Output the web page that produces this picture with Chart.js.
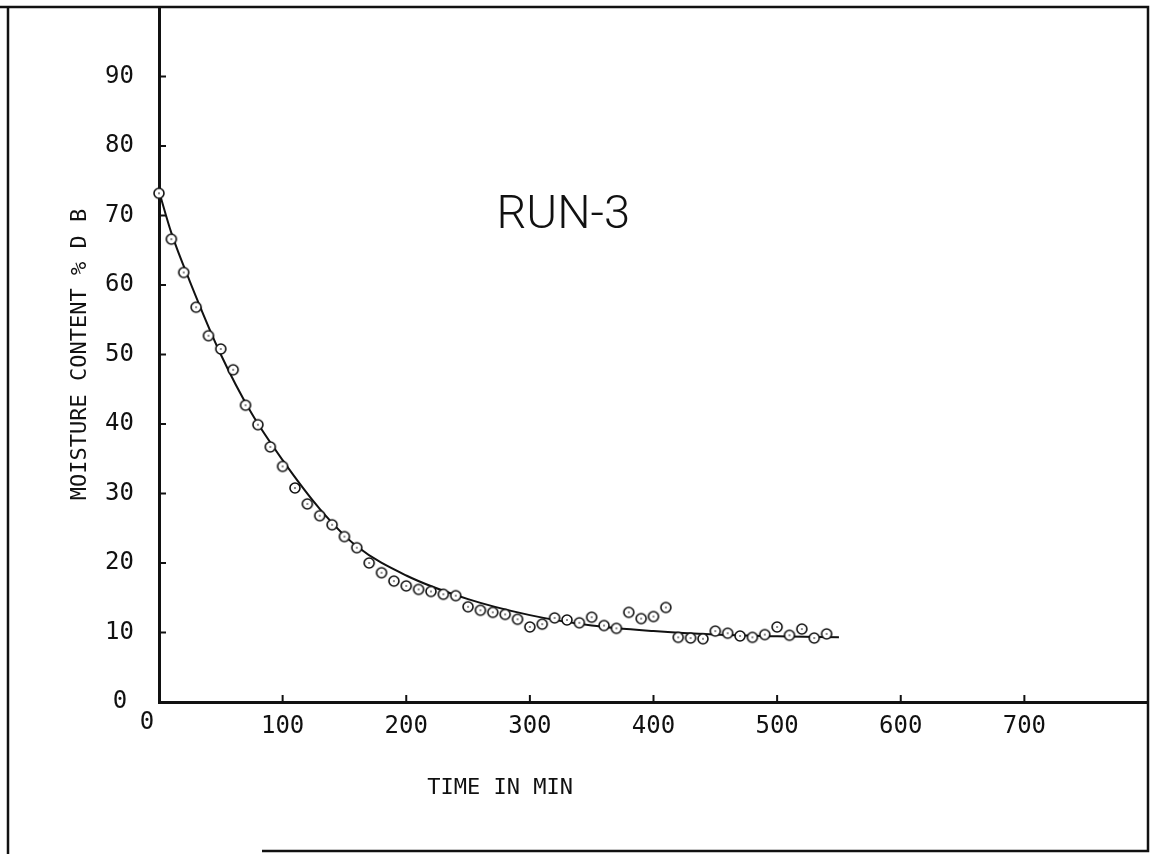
<!DOCTYPE html>
<html>
<head>
<meta charset="utf-8">
<title>RUN-3</title>
<script src="https://cdn.jsdelivr.net/npm/chart.js@4.4.0/dist/chart.umd.min.js"></script>
<style>
  html, body { margin: 0; padding: 0; background: #fff; }
  canvas { display: block; }
</style>
</head>
<body>
<canvas id="run3" width="1155" height="854"></canvas>
<script>
// data titik pengukuran (menit, kadar air % basis kering)
const timeMin = [
  0, 10, 20, 30, 40, 50, 60, 70, 80, 90,
  100, 110, 120, 130, 140, 150, 160, 170, 180, 190,
  200, 210, 220, 230, 240, 250, 260, 270, 280, 290,
  300, 310, 320, 330, 340, 350, 360, 370, 380, 390,
  400, 410, 420, 430, 440, 450, 460, 470, 480, 490,
  500, 510, 520, 530, 540,
];
const moisture = [
  73.2, 66.6, 61.8, 56.8, 52.7, 50.8, 47.8, 42.7, 39.9, 36.7,
  33.9, 30.8, 28.5, 26.8, 25.5, 23.8, 22.2, 20.0, 18.6, 17.4,
  16.7, 16.2, 15.9, 15.5, 15.3, 13.7, 13.2, 12.9, 12.6, 11.9,
  10.8, 11.2, 12.1, 11.8, 11.4, 12.2, 11.0, 10.6, 12.9, 12.0,
  12.3, 13.6, 9.3, 9.2, 9.1, 10.2, 9.9, 9.5, 9.3, 9.7,
  10.8, 9.6, 10.5, 9.2, 9.8,
];

// kurva fit (dibaca dari garis di gambar)
const fitTime = [0, 10, 25, 50, 75, 100, 130, 160, 200, 250, 300, 350, 400, 450, 500, 550];
const fitMoisture = [73.5, 67.5, 60.5, 50.0, 41.5, 34.8, 27.8, 22.4, 18.2, 14.8, 12.5, 11.0, 10.2, 9.7, 9.45, 9.3];

// tick sumbu
const xTickValues = [0, 100, 200, 300, 400, 500, 600, 700];
const yTickValues = [0, 10, 20, 30, 40, 50, 60, 70, 80, 90];

const tinta = "#111";
const fontMono = "'DejaVu Sans Mono', 'Liberation Mono', monospace";

// marker lingkaran kosong dengan titik di tengah
function bikinMarker() {
  const c = document.createElement("canvas");
  c.width = 14;
  c.height = 14;
  const g = c.getContext("2d");
  g.fillStyle = "#fff";
  g.strokeStyle = tinta;
  g.lineWidth = 1.6;
  g.beginPath();
  g.arc(7, 7, 5, 0, Math.PI * 2);
  g.fill();
  g.stroke();
  g.fillStyle = tinta;
  g.fillRect(6.3, 6.3, 1.4, 1.4);
  return c;
}

// bingkai, tick ke dalam, label nol dan teks tambahan
const hiasan = {
  id: "hiasan",
  afterDraw(chart) {
    const { ctx, chartArea, scales } = chart;
    const sx = scales.x;
    const sy = scales.y;
    ctx.save();
    ctx.strokeStyle = tinta;
    ctx.lineWidth = 2.5;
    ctx.beginPath();
    ctx.moveTo(0, chartArea.top);
    ctx.lineTo(chartArea.right, chartArea.top);
    ctx.lineTo(chartArea.right, 851);
    ctx.lineTo(262, 851);
    ctx.moveTo(8, chartArea.top);
    ctx.lineTo(8, 854);
    ctx.stroke();

    ctx.lineWidth = 2;
    xTickValues.forEach((v) => {
      if (v === 0) return;
      const px = sx.getPixelForValue(v);
      ctx.beginPath();
      ctx.moveTo(px, chartArea.bottom);
      ctx.lineTo(px, chartArea.bottom - 7);
      ctx.stroke();
    });
    yTickValues.forEach((v) => {
      if (v === 0) return;
      const py = sy.getPixelForValue(v);
      ctx.beginPath();
      ctx.moveTo(chartArea.left, py);
      ctx.lineTo(chartArea.left + 7, py);
      ctx.stroke();
    });

    ctx.fillStyle = tinta;
    ctx.font = "24px " + fontMono;
    ctx.textAlign = "center";
    ctx.textBaseline = "middle";
    ctx.fillText("0", chartArea.left - 39, sy.getPixelForValue(0));
    ctx.fillText("0", chartArea.left - 12, chartArea.bottom + 21);

    ctx.textBaseline = "alphabetic";
    ctx.font = "300 47px Roboto";
    ctx.fillText("RUN-3", sx.getPixelForValue(327), sy.getPixelForValue(68.2));

    ctx.font = "22px " + fontMono;
    ctx.fillText("TIME IN MIN", sx.getPixelForValue(276), 794);
    ctx.restore();
  },
};

const ctxRun = document.getElementById("run3").getContext("2d");
const runChart = new Chart(ctxRun, {
  type: "scatter",
  data: {
    datasets: [
      {
        label: "data",
        data: timeMin.map((t, i) => ({ x: t, y: moisture[i] })),
        pointStyle: bikinMarker(),
        pointRadius: 5,
        clip: false,
      },
      {
        label: "fit",
        data: fitTime.map((t, i) => ({ x: t, y: fitMoisture[i] })),
        showLine: true,
        borderColor: tinta,
        borderWidth: 2,
        pointRadius: 0,
        cubicInterpolationMode: "monotone",
        clip: false,
      },
    ],
  },
  options: {
    responsive: false,
    animation: false,
    layout: { padding: { top: 7, right: 7, left: 0, bottom: 0 } },
    plugins: {
      legend: { display: false },
      tooltip: { enabled: false },
    },
    scales: {
      x: {
        type: "linear",
        min: 0,
        max: 800,
        afterBuildTicks(s) {
          s.ticks = xTickValues.map((v) => ({ value: v }));
        },
        afterFit(s) {
          s.height = 152;
          s.paddingLeft = 0;
          s.paddingRight = 0;
        },
        grid: { display: false },
        border: { display: true, color: tinta, width: 3 },
        ticks: {
          color: tinta,
          font: { family: fontMono, size: 24 },
          padding: 2,
          maxRotation: 0,
          autoSkip: false,
          callback: (v) => (v === 0 ? "" : v),
        },
      },
      y: {
        type: "linear",
        min: 0,
        max: 100,
        afterBuildTicks(s) {
          s.ticks = yTickValues.map((v) => ({ value: v }));
        },
        afterFit(s) {
          s.width = 159;
          s.paddingTop = 0;
          s.paddingBottom = 0;
        },
        grid: { display: false },
        border: { display: true, color: tinta, width: 3 },
        title: {
          display: true,
          text: "MOISTURE CONTENT % D B",
          color: tinta,
          font: { family: fontMono, size: 22 },
          padding: { top: 67, bottom: 0 },
        },
        ticks: {
          color: tinta,
          font: { family: fontMono, size: 24 },
          padding: 17,
          autoSkip: false,
          callback: (v) => (v === 0 ? "" : v),
        },
      },
    },
  },
  plugins: [hiasan],
});
</script>
</body>
</html>
